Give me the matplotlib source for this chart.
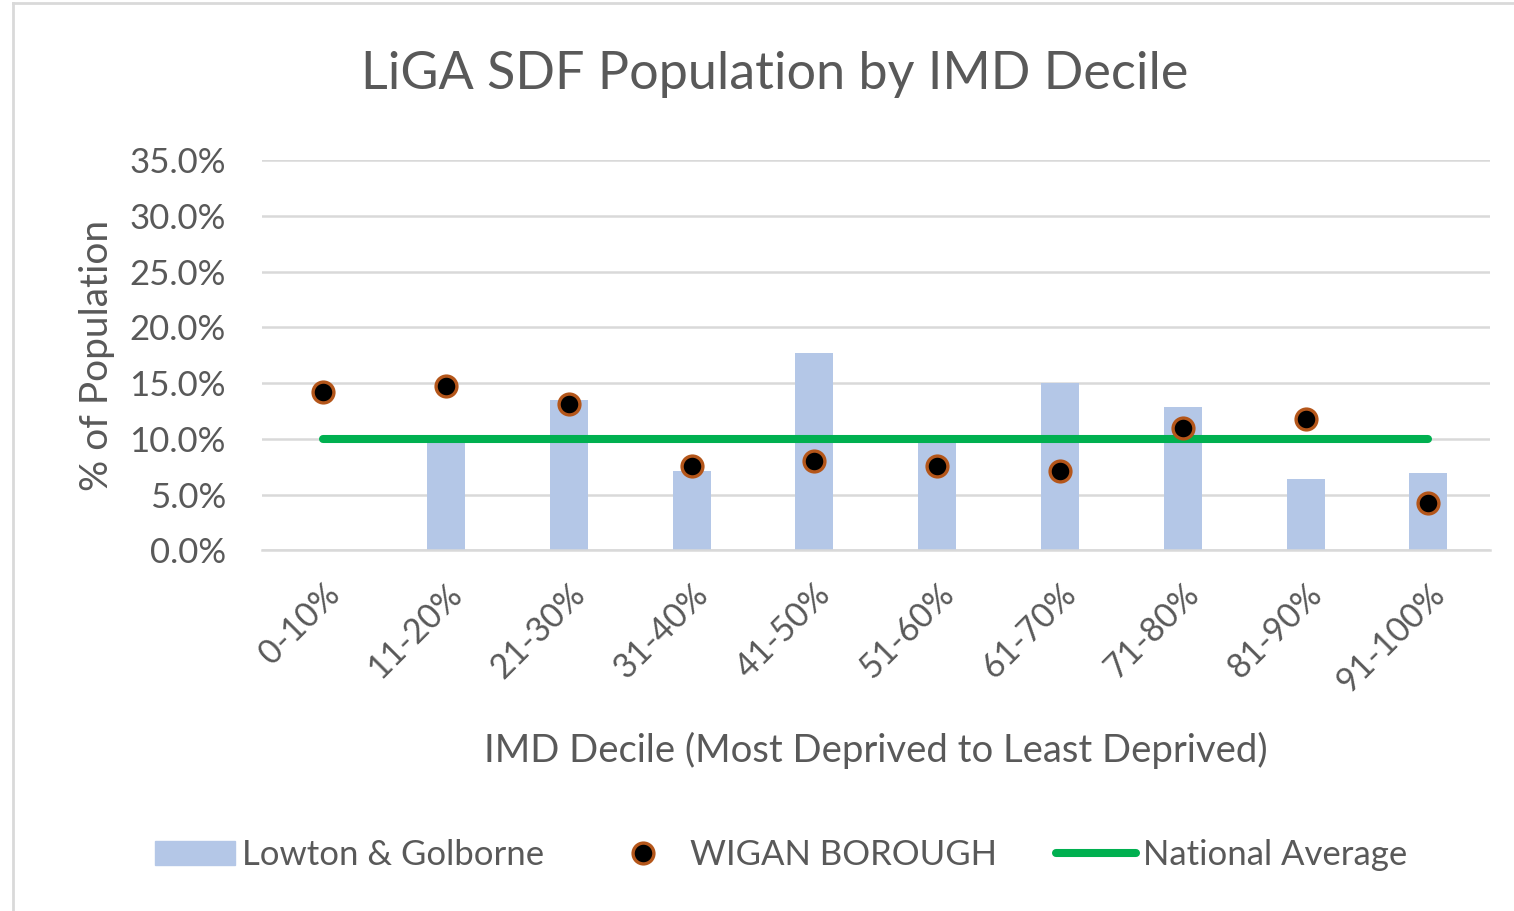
import numpy as np
import matplotlib
matplotlib.use('Agg')
import matplotlib.pyplot as plt
from matplotlib.ticker import FuncFormatter
from matplotlib.lines import Line2D

plt.rcParams['font.family'] = ['Lato', 'DejaVu Sans']

deciles = ['0-10%', '11-20%', '21-30%', '31-40%', '41-50%',
           '51-60%', '61-70%', '71-80%', '81-90%', '91-100%']
lowton = [0.0, 9.9, 13.5, 7.1, 17.7, 9.6, 15.0, 12.9, 6.4, 6.9]
wigan = [14.2, 14.7, 13.1, 7.6, 8.0, 7.6, 7.1, 11.0, 11.8, 4.2]
national = [10.0] * 10

txt = '#595959'
grid = '#d9d9d9'
dot_edge = '#b4561a'

fig = plt.figure(figsize=(15.14, 9.11), dpi=100)
ax = fig.add_axes([0.173, 0.396, 0.811, 0.428])
x = np.arange(len(deciles))

ax.bar(x, lowton, width=0.31, color='#b4c7e7', zorder=2, label='Lowton & Golborne')
ax.plot(x, national, color='#00b050', lw=5.8, solid_capstyle='round', zorder=3,
        label='National Average')
ax.plot(x, wigan, ls='none', marker='o', ms=15, mfc='black', mec=dot_edge, mew=2.4,
        zorder=4, label='WIGAN BOROUGH')

ax.set_xlim(-0.5, 9.5)
ax.set_ylim(0, 35)
ax.set_yticks(np.arange(0, 36, 5))
ax.yaxis.set_major_formatter(FuncFormatter(lambda v, p: f'{v:.1f}%'))
ax.grid(axis='y', color=grid, lw=1.8, zorder=0)
for s in ['top', 'right', 'left']:
    ax.spines[s].set_visible(False)
ax.spines['bottom'].set_color(grid)
ax.spines['bottom'].set_linewidth(1.8)
ax.tick_params(axis='both', length=0, colors=txt)
ax.tick_params(axis='y', pad=26, labelsize=25)
ax.set_xticks(x)
ax.set_xticklabels(deciles, rotation=45, ha='right', rotation_mode='anchor')
ax.tick_params(axis='x', pad=20, labelsize=24.5)

ax.set_ylabel('% of Population', fontsize=28, color=txt, labelpad=10)
ax.set_xlabel('IMD Decile (Most Deprived to Least Deprived)', fontsize=27.5, color=txt,
              labelpad=24)
fig.text(0.512, 0.918, 'LiGA SDF Population by IMD Decile', fontsize=37.5, color=txt,
         ha='center', va='center')

handles = [plt.Rectangle((0, 0), 1, 1, color='#b4c7e7'),
           Line2D([], [], ls='none', marker='o', ms=15, mfc='black', mec=dot_edge, mew=2.4),
           Line2D([], [], color='#00b050', lw=5.8, solid_capstyle='round')]
labels = ['Lowton & Golborne', 'WIGAN BOROUGH', 'National Average']
leg = fig.legend(handles, labels, loc='center', bbox_to_anchor=(0.516, 0.061), ncol=3,
                 frameon=False, fontsize=25, handlelength=2.3, columnspacing=1.7,
                 handletextpad=0.2)
for t in leg.get_texts():
    t.set_color(txt)

# outer chart border (left + top)
fig.add_artist(Line2D([13 / 1514, 13 / 1514], [0, 1 - 3 / 911], transform=fig.transFigure,
                      color=grid, lw=2))
fig.add_artist(Line2D([13 / 1514, 1], [1 - 3 / 911, 1 - 3 / 911], transform=fig.transFigure,
                      color=grid, lw=2))

fig.savefig('out.png', dpi=100)
